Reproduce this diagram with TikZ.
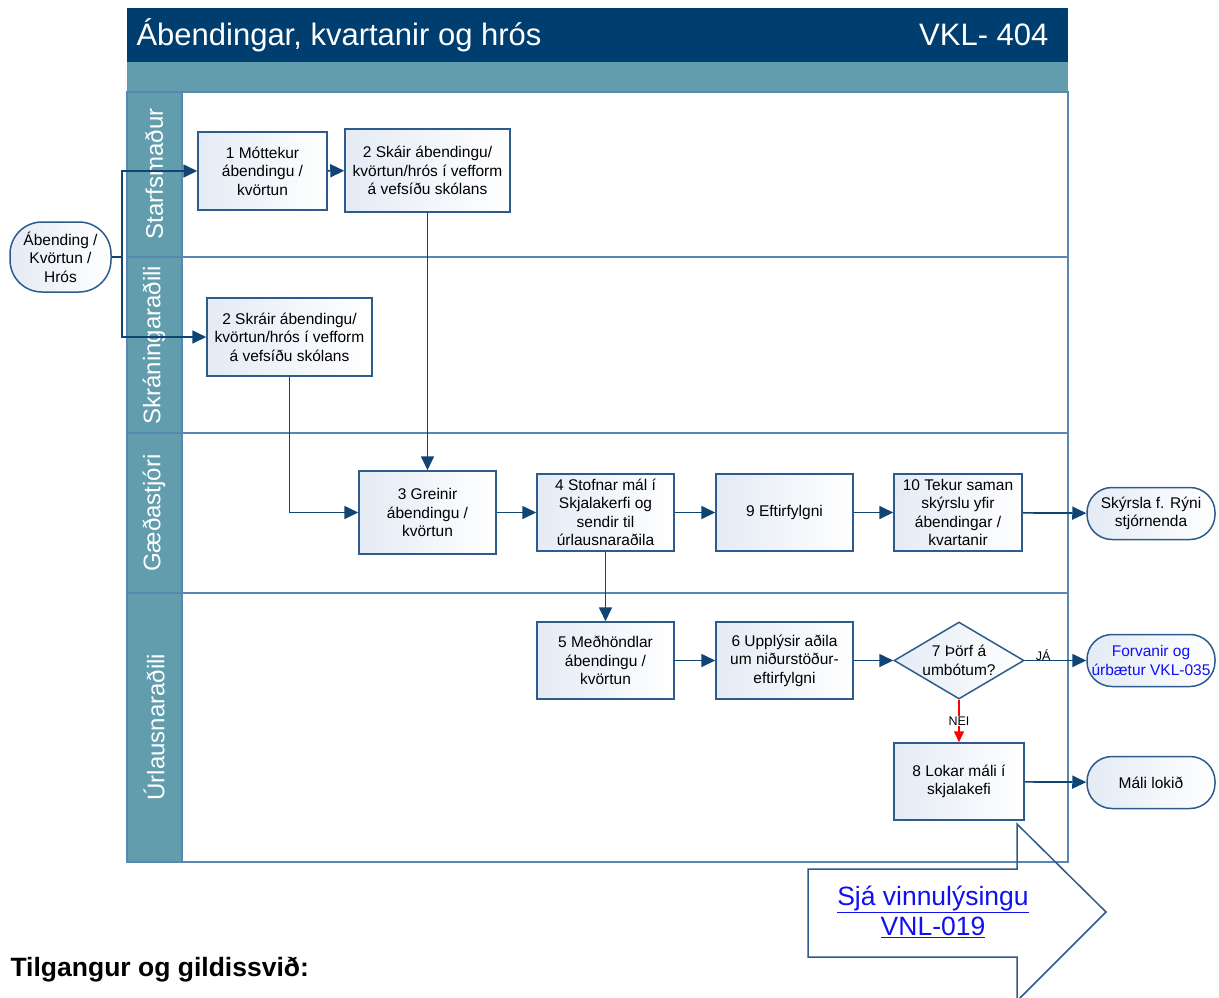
\documentclass[tikz,border=0pt]{standalone}
\usepackage{fontspec}
\setmainfont{Liberation Sans}
\usetikzlibrary{arrows.meta,shapes.geometric}
\pgfdeclarelayer{lanelayer}
\pgfdeclarelayer{edgelayer}
\pgfdeclarelayer{nodelayer}
\pgfsetlayers{lanelayer,edgelayer,nodelayer,main}
\definecolor{titleblue}{HTML}{003E70}
\definecolor{lanehead}{HTML}{629DAE}
\definecolor{laneline}{HTML}{5A86B4}
\definecolor{edgecol}{HTML}{0F4473}
\definecolor{boxline}{HTML}{2D5C8C}
\definecolor{boxfill}{HTML}{E4EBF5}
\definecolor{linkblue}{HTML}{1010F0}
\tikzset{font=\fontsize{15.5}{18.5}\selectfont}
\tikzstyle{none}=[inner sep=0pt]
\tikzstyle{box}=[draw=boxline,line width=1.5pt,left color=boxfill,right color=white,align=center,inner sep=2pt,minimum width=137pt,minimum height=77pt]
\tikzstyle{term}=[draw=boxline,line width=1.5pt,left color=boxfill,right color=white,align=center,inner sep=2pt,rounded corners=25pt,minimum width=128pt,minimum height=52pt]
\tikzstyle{dec}=[draw=boxline,line width=1.5pt,left color=boxfill,right color=white,diamond,inner sep=0pt,minimum width=130pt,minimum height=77pt]
\tikzstyle{lanename}=[text=white,rotate=90,font=\fontsize{24}{28}\selectfont]
\tikzstyle{edge}=[draw=edgecol,line width=1.7pt,-{Triangle[length=14pt,width=13pt]}]
\tikzstyle{noedge}=[draw=red,line width=1.5pt,-{Triangle[length=11pt,width=10pt]}]

\begin{document}
\begin{tikzpicture}[x=1pt,y=-1pt]
	\useasboundingbox (0,0) rectangle (1219,997);
	\begin{pgfonlayer}{lanelayer}
		% title and lanes
		\fill[titleblue] (127,8) rectangle (1068,62);
		\fill[lanehead] (127,62) rectangle (1068,92);
		\fill[lanehead] (127,92) rectangle (182,862);
		\draw[laneline,line width=1.5pt] (127,92) rectangle (1068,862);
		\draw[laneline,line width=1.5pt] (182,92) -- (182,862);
		\draw[laneline,line width=1.5pt] (127,257) -- (1068,257);
		\draw[laneline,line width=1.5pt] (127,433) -- (1068,433);
		\draw[laneline,line width=1.5pt] (127,593) -- (1068,593);
		\node [anchor=west,text=white,font=\fontsize{31}{36}\selectfont] (t) at (133,35) {Ábendingar, kvartanir og hrós};
		\node [anchor=east,text=white,font=\fontsize{31}{36}\selectfont] (id) at (1052,35) {VKL- 404};
		\node [style=lanename] (l1) at (154,174) {Starfsmaður};
		\node [style=lanename] (l2) at (154,345) {Skráningaraðili};
		\node [style=lanename] (l3) at (154,513) {Gæðastjóri};
		\node [style=lanename] (l4) at (154,727) {Úrlausnaraðili};
	\end{pgfonlayer}
	\begin{pgfonlayer}{nodelayer}
		\node [style=term,rounded corners=32pt,minimum width=101pt,minimum height=70pt] (0) at (60.5,257) {Ábending /\\Kvörtun /\\Hrós};
		\node [style=box,minimum width=129pt,minimum height=78pt] (1) at (262.5,171) {1 Móttekur\\ábendingu /\\kvörtun};
		\node [style=box,minimum width=165pt,minimum height=83pt] (2) at (427.5,170.5) {2 Skáir ábendingu/\\kvörtun/hrós í vefform\\á vefsíðu skólans};
		\node [style=box,minimum width=165pt,minimum height=78pt] (2b) at (289.5,337) {2 Skráir ábendingu/\\kvörtun/hrós í vefform\\á vefsíðu skólans};
		\node [style=box,minimum height=83pt] (3) at (427.5,512.5) {3 Greinir\\ábendingu /\\kvörtun};
		\node [style=box] (4) at (605.5,512.5) {4 Stofnar mál í\\Skjalakerfi og\\sendir til\\úrlausnaraðila};
		\node [style=box] (9) at (784.5,512.5) {9 Eftirfylgni};
		\node [style=box,minimum width=128pt] (10) at (958,512.5) {10 Tekur saman\\skýrslu yfir\\ábendingar /\\kvartanir};
		\node [style=term] (11) at (1151,513.5) {Skýrsla f. Rýni\\stjórnenda};
		\node [style=box] (5) at (605.5,660.5) {5 Meðhöndlar\\ábendingu /\\kvörtun};
		\node [style=box] (6) at (784.5,660.5) {6 Upplýsir aðila\\um niðurstöður-\\eftirfylgni};
		\node [style=dec,label={[align=center]center:7 Þörf á\\umbótum?}] (7) at (959,660.5) {};
		\node [style=term,text=linkblue] (12) at (1151,660.5) {Forvanir og\\úrbætur VKL-035};
		\node [style=box,minimum width=130pt] (8) at (959,781.5) {8 Lokar máli í\\skjalakefi};
		\node [style=term] (13) at (1151,782.5) {Máli lokið};
	\end{pgfonlayer}
	\begin{pgfonlayer}{edgelayer}
		\coordinate (j) at (122,257);
		\draw[edge] (0.east) -- (j) |- (1.west);
		\draw[edge] (j) |- (2b.west);
		\draw[edge] (1) -- (2);
		\draw[edge] (2) -- (3);
		\draw[edge] (2b.south) |- (3.west);
		\draw[edge] (3) -- (4);
		\draw[edge] (4) -- (9);
		\draw[edge] (9) -- (10);
		\draw[edge] (10) -- (11);
		\draw[edge] (4) -- (5);
		\draw[edge] (5) -- (6);
		\draw[edge] (6) -- (7);
		\draw[edge] (7) -- node [pos=0.3,above=-4pt,font=\fontsize{12.5}{14}\selectfont] {JÁ} (12);
		\draw[noedge] (7) -- node [fill=white,inner sep=1pt,font=\fontsize{12.5}{14}\selectfont] {NEI} (8);
		\draw[edge] (8) -- (13);
	\end{pgfonlayer}
	% link arrow
	\draw[boxline,line width=1.5pt,line join=miter] (808,869) -- (1017,869) -- (1017,824) -- (1106,912) -- (1017,1001) -- (1017,957) -- (808,957) -- cycle;
	\node [align=center,text=linkblue,font=\fontsize{26.5}{30}\selectfont] (14) at (933,912) {\underline{Sjá vinnulýsingu}\\\underline{VNL-019}};
	\node [anchor=west,font=\bfseries\fontsize{26.5}{30}\selectfont] (15) at (7,970) {Tilgangur og gildissvið:};
\end{tikzpicture}
\end{document}
